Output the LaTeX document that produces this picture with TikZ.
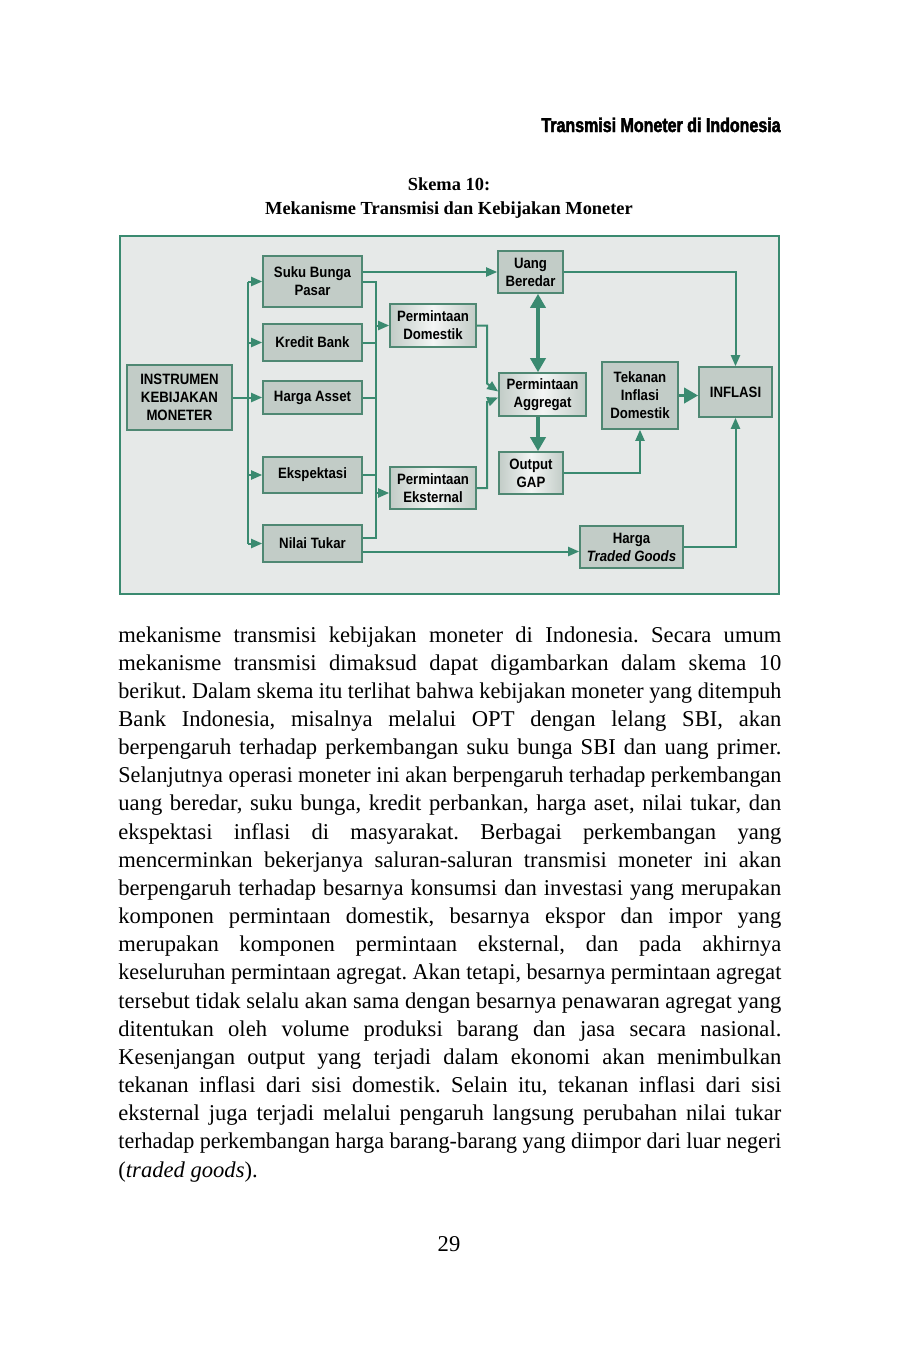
\documentclass[tikz,border=0pt]{standalone}
\usepackage{fontspec}
\setmainfont{Liberation Serif}
\newfontfamily\boxfont{Liberation Sans}[FakeStretch=0.88]
\newfontfamily\headfont{Liberation Sans}[FakeStretch=0.8,FakeBold=2.2]
\usepackage{graphicx}
\usepackage{tikz}
\usetikzlibrary{arrows.meta, positioning}
\frenchspacing

\definecolor{linkgreen}{HTML}{3A8A70}
\definecolor{boxline}{HTML}{4F8873}
\definecolor{boxfill}{HTML}{C2CCC7}
\definecolor{bgfill}{HTML}{E6E9E8}

\newlength\textw \setlength\textw{331.5pt}
\newsavebox\linebox
% one justified line of the body text
\newcommand\fitline[1]{\sbox\linebox{#1}%
  \ifdim\wd\linebox>\textw\resizebox{\textw}{\height}{\usebox\linebox}%
  \else\makebox[\textw][s]{#1}\fi}

\begin{document}
\begin{tikzpicture}[x=0.5pt, y=-0.5pt,
    box/.style={draw=boxline, fill=boxfill, line width=0.8pt, inner sep=0pt, align=center,
      font=\boxfont\bfseries\fontsize{7.5}{9}\selectfont},
    shadebox/.style={box, left color=boxfill, right color=boxfill, middle color=white!80!boxfill},
    link/.style={draw=linkgreen, line width=1pt},
    arr/.style={link, -{Triangle[length=5.5pt,width=4.5pt]}},
    bigarr/.style={link, line width=1.7pt, -{Triangle[length=7pt,width=7.5pt]}},
    body/.style={anchor=base west, inner sep=0pt, font=\fontsize{11.3}{14}\selectfont}]
    \useasboundingbox[fill=white] (0,0) rectangle (898,1346);

    % Running head and caption
    \node[anchor=base east, inner sep=0pt, font=\headfont\bfseries\fontsize{10}{12}\selectfont] (head) at (781,132) {Transmisi Moneter di Indonesia};
    \node[anchor=base, inner sep=0pt, font=\bfseries\fontsize{9.2}{11}\selectfont] (cap1) at (449,190) {Skema 10:};
    \node[anchor=base, inner sep=0pt, font=\bfseries\fontsize{9.2}{11}\selectfont] (cap2) at (449,214) {Mekanisme Transmisi dan Kebijakan Moneter};

    % Frame
    \draw[draw=linkgreen, line width=1pt, fill=bgfill] (120,236) rectangle (779,594);

    % Instrument and channels
    \node[box, minimum width=52.5pt, minimum height=32.5pt] (instr) at (179.5,397.5) {INSTRUMEN\\KEBIJAKAN\\MONETER};
    \node[box, minimum width=49.5pt, minimum height=25.5pt] (suku) at (312.5,281.5) {Suku Bunga\\Pasar};
    \node[box, minimum width=49.5pt, minimum height=18.5pt] (kredit) at (312.5,342.5) {Kredit Bank};
    \node[box, minimum width=49.5pt, minimum height=16.5pt] (harga) at (312.5,397.5) {Harga Asset};
    \node[box, minimum width=49.5pt, minimum height=18pt] (ekspek) at (312.5,475) {Ekspektasi};
    \node[box, minimum width=49.5pt, minimum height=18.5pt] (nilai) at (312.5,543.5) {Nilai Tukar};

    % Demand side
    \node[shadebox, minimum width=43pt, minimum height=21.5pt] (pdom) at (433,325.5) {Permintaan\\Domestik};
    \node[shadebox, minimum width=43pt, minimum height=21pt] (peks) at (433,488) {Permintaan\\Eksternal};
    \node[box, minimum width=32.5pt, minimum height=21pt] (uang) at (530.5,272) {Uang\\Beredar};
    \node[shadebox, minimum width=43.5pt, minimum height=21.5pt] (pagg) at (542.5,394.5) {Permintaan\\Aggregat};
    \node[shadebox, minimum width=32pt, minimum height=21pt] (gap) at (531,473) {Output\\GAP};
    \node[box, minimum width=38pt, minimum height=33.5pt] (tekanan) at (640,395.5) {Tekanan\\Inflasi\\Domestik};
    \node[box, minimum width=36.5pt, minimum height=25pt] (inflasi) at (735.5,392) {INFLASI};
    \node[box, minimum width=51.5pt, minimum height=21pt] (traded) at (631.5,547) {Harga\\\textit{Traded Goods}};

    % Bus lines
    \coordinate (lb) at (248,397.5);
    \coordinate (rbtop) at (376,281.5);
    \coordinate (rbbot) at (376,538);
    \coordinate (jn) at (487,0);
    \coordinate (ax) at (538,0);

    \draw[link] (instr) -- (lb);
    \draw[link] (lb |- suku) -- (lb |- nilai);
    \foreach \n in {suku,kredit,harga,ekspek,nilai}
        \draw[arr] (lb |- \n) -- (\n.west);

    \draw[link] (suku.east) -- (rbtop) -- (rbbot) -- (nilai.east |- rbbot);
    \foreach \n in {kredit,harga,ekspek}
        \draw[link] (\n.east) -- (rbtop |- \n);
    \draw[arr] (rbtop |- pdom) -- (pdom.west);
    \draw[arr] ([yshift=-2.5pt]peks.west -| rbtop) -- ([yshift=-2.5pt]peks.west);

    % Flows to inflation
    \draw[arr] (suku.east |- uang) -- (uang.west);
    \draw[arr] (uang.east) -| (inflasi.north);
    \draw[bigarr, {Triangle[length=7pt,width=7.5pt]}-{Triangle[length=7pt,width=7.5pt]}] (uang.south -| ax) -- (pagg.north -| ax);
    \draw[arr] (pdom.east) -- (pdom.east -| jn) -- ++(0,58) -- ([yshift=1.5pt]pagg.west);
    \draw[arr] (peks.east) -- (peks.east -| jn) -- ++(0,-86) -- ([yshift=-1.5pt]pagg.west);
    \draw[bigarr] (pagg.south -| ax) -- (gap.north -| ax);
    \draw[arr] (gap.east) -| (tekanan.south);
    \draw[bigarr] (tekanan.east) -- (tekanan.east -| inflasi.west);
    \draw[arr] ([yshift=-4pt]nilai.east) -- ([yshift=-4pt]nilai.east -| traded.west);
    \draw[arr] (traded.east) -| (inflasi.south);

    % Body text
    \foreach \ln [count=\i from 0] in {
        {mekanisme transmisi kebijakan moneter di Indonesia. Secara umum},
        {mekanisme transmisi dimaksud dapat digambarkan dalam skema 10},
        {berikut. Dalam skema itu terlihat bahwa kebijakan moneter yang ditempuh},
        {Bank Indonesia, misalnya melalui OPT dengan lelang SBI, akan},
        {berpengaruh terhadap perkembangan suku bunga SBI dan uang primer.},
        {Selanjutnya operasi moneter ini akan berpengaruh terhadap perkembangan},
        {uang beredar, suku bunga, kredit perbankan, harga aset, nilai tukar, dan},
        {ekspektasi inflasi di masyarakat. Berbagai perkembangan yang},
        {mencerminkan bekerjanya saluran-saluran transmisi moneter ini akan},
        {berpengaruh terhadap besarnya konsumsi dan investasi yang merupakan},
        {komponen permintaan domestik, besarnya ekspor dan impor yang},
        {merupakan komponen permintaan eksternal, dan pada akhirnya},
        {keseluruhan permintaan agregat. Akan tetapi, besarnya permintaan agregat},
        {tersebut tidak selalu akan sama dengan besarnya penawaran agregat yang},
        {ditentukan oleh volume produksi barang dan jasa secara nasional.},
        {Kesenjangan output yang terjadi dalam ekonomi akan menimbulkan},
        {tekanan inflasi dari sisi domestik. Selain itu, tekanan inflasi dari sisi},
        {eksternal juga terjadi melalui pengaruh langsung perubahan nilai tukar},
        {terhadap perkembangan harga barang-barang yang diimpor dari luar negeri}}
        \node[body] (line\i) at (118,{642+28.16*\i}) {\fitline{\ln}};
    \node[body] (lastline) at (118,1177) {(\textit{traded goods}).};

    % Page number
    \node[anchor=base, inner sep=0pt, font=\fontsize{11.3}{14}\selectfont] (pnum) at (449,1251) {29};
\end{tikzpicture}
\end{document}
